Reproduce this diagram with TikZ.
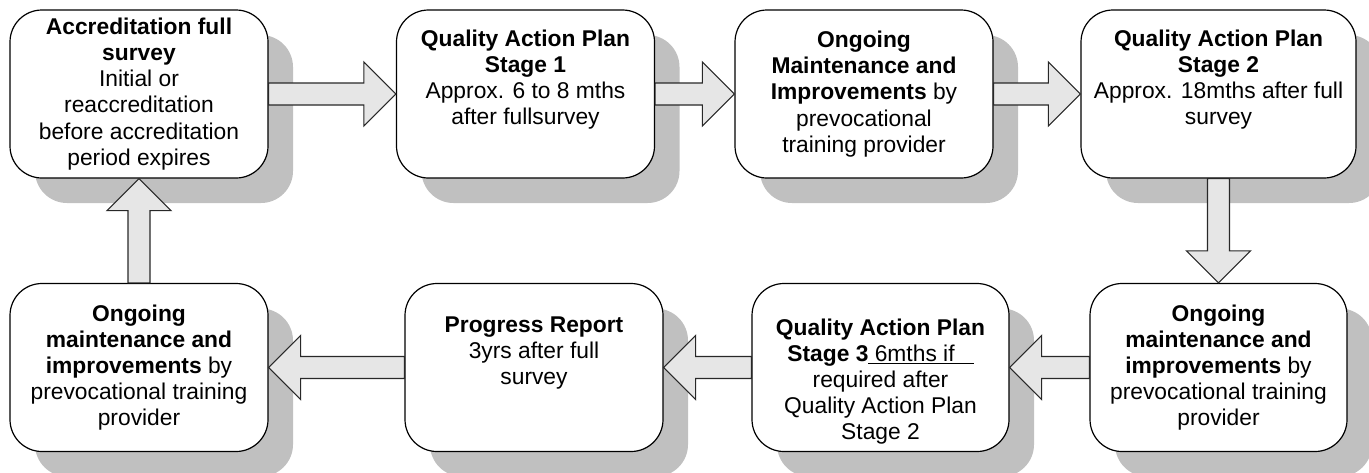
\documentclass[tikz,border=0pt]{standalone}
\usepackage{fontspec}
\setmainfont{Liberation Sans}
\usetikzlibrary{calc,shadows}
\definecolor{shadowgray}{RGB}{192,192,192}
\definecolor{arrowfill}{RGB}{230,230,230}
\definecolor{edgegray}{RGB}{40,40,40}

% Horizontal block arrow: #1 start anchor, #2 tip anchor, #3 = 1 (rightwards) or -1 (leftwards)
\newcommand\flowarrowH[3]{%
  \draw[blockarrow] ($(#1)+(0,-11)$) -- ($(#2)+({-32*#3},-11)$) -- ($(#2)+({-32*#3},-32)$)
    -- (#2) -- ($(#2)+({-32*#3},32)$) -- ($(#2)+({-32*#3},11)$) -- ($(#1)+(0,11)$) -- cycle;}
% Vertical block arrow: #3 = 1 (downwards) or -1 (upwards); y grows downwards
\newcommand\flowarrowV[3]{%
  \draw[blockarrow] ($(#1)+(-11,0)$) -- ($(#2)+(-11,{-32*#3})$) -- ($(#2)+(-32,{-32*#3})$)
    -- (#2) -- ($(#2)+(32,{-32*#3})$) -- ($(#2)+(11,{-32*#3})$) -- ($(#1)+(11,0)$) -- cycle;}

\begin{document}
\begin{tikzpicture}[x=0.75pt,y=-0.75pt,
  stagebox/.style={draw=black, line width=0.9pt, fill=white, rounded corners=24pt,
    minimum width=#1*0.75pt, minimum height=126pt, inner sep=0pt, align=center,
    font=\fontsize{17.1}{19.6}\selectfont,
    drop shadow={shadow xshift=18.75pt, shadow yshift=-18.75pt, fill=shadowgray, opacity=1}},
  stagebox/.default=258,
  blockarrow/.style={draw=edgegray, line width=0.8pt, fill=arrowfill, line join=miter}]

\path[use as bounding box] (0,0) rectangle (1369,472);
\clip (0,0) rectangle (1369,472);

% Top row
\node[stagebox] (s1) at (139,94)
  {\textbf{Accreditation full}\\\textbf{survey}\\Initial or\\reaccreditation\\before accreditation\\period expires};
\node[stagebox] (s2) at (525.5,94)
  {\textbf{Quality Action Plan}\\\textbf{Stage 1}\\Approx. 6 to 8 mths\\after fullsurvey\\\strut};
\node[stagebox] (s3) at (864,94)
  {\textbf{Ongoing}\\\textbf{Maintenance and}\\\textbf{Improvements} by\\prevocational\\training provider};
\node[stagebox=275] (s4) at (1218.5,94)
  {\textbf{Quality Action Plan}\\\textbf{Stage 2}\\Approx. 18mths after full\\survey\\\strut};

% Bottom row
\node[stagebox=257] (s5) at (1218.5,367.5)
  {\textbf{Ongoing}\\\textbf{maintenance and}\\\textbf{improvements} by\\prevocational training\\provider};
\node[stagebox=257] (s6) at (880.5,367.5)
  {\strut\\\textbf{Quality Action Plan}\\\textbf{Stage 3}\underline{\ 6mths if\ \ \ }\\required after\\Quality Action Plan\\Stage 2};
\node[stagebox] (s7) at (534,367.5)
  {\textbf{Progress Report}\\3yrs after full\\survey\\\strut};
\node[stagebox] (s8) at (139,367.5)
  {\textbf{Ongoing}\\\textbf{maintenance and}\\\textbf{improvements} by\\prevocational training\\provider};

% Connectors
\flowarrowH{s1.east}{s2.west}{1}
\flowarrowH{s2.east}{s3.west}{1}
\flowarrowH{s3.east}{s4.west}{1}
\flowarrowV{s4.south}{s5.north}{1}
\flowarrowH{s5.west}{s6.east}{-1}
\flowarrowH{s6.west}{s7.east}{-1}
\flowarrowH{s7.west}{s8.east}{-1}
\flowarrowV{s8.north}{s1.south}{-1}
\end{tikzpicture}
\end{document}
